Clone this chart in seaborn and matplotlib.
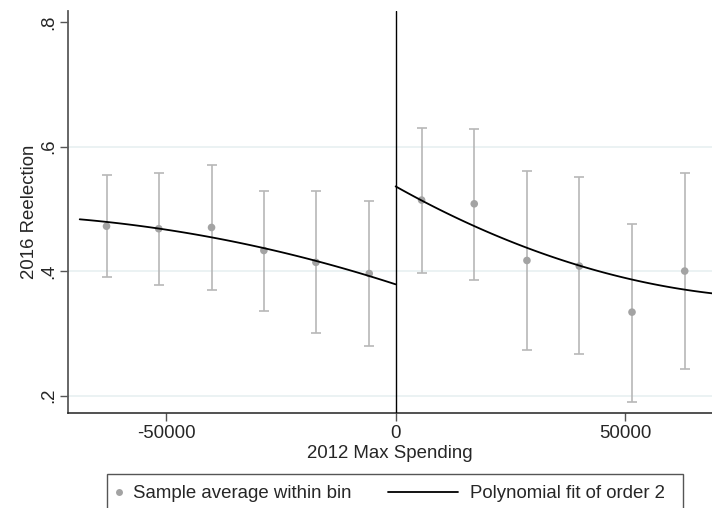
import matplotlib
matplotlib.use("Agg")
import matplotlib.pyplot as plt
import seaborn as sns
import numpy as np
import pandas as pd
from matplotlib.lines import Line2D
from matplotlib.patches import Rectangle

# Binned sample averages with 95% confidence bounds
bin_x = [-62960, -51590, -40090, -28690, -17360, -5750,
         5660, 17120, 28600, 40000, 51480, 62960]
bin_mean = [0.472, 0.468, 0.470, 0.433, 0.414, 0.396,
            0.514, 0.508, 0.417, 0.408, 0.334, 0.400]
ci_low = [0.390, 0.378, 0.370, 0.336, 0.300, 0.279,
          0.397, 0.386, 0.273, 0.266, 0.190, 0.242]
ci_high = [0.555, 0.557, 0.570, 0.529, 0.528, 0.512,
           0.630, 0.628, 0.561, 0.551, 0.476, 0.558]

# Quadratic fit traced on each side of the cutoff
fit_left_x = [-68800, -62960, -51590, -40090, -28690, -18230, -7780, 0]
fit_left_y = [0.483, 0.479, 0.468, 0.455, 0.436, 0.419, 0.395, 0.3795]
fit_right_x = [0, 5660, 17120, 28600, 40000, 51480, 62960, 68900]
fit_right_y = [0.536, 0.513, 0.473, 0.437, 0.409, 0.386, 0.370, 0.3645]

y_ticks = [0.2, 0.4, 0.6, 0.8]
y_ticklabels = [".2", ".4", ".6", ".8"]
x_ticks = [-50000, 0, 50000]
x_ticklabels = ["-50000", "0", "50000"]

sns.set_style("white")
plt.rcParams["font.family"] = ["Liberation Sans", "DejaVu Sans"]
FS = 13.4

W, H = 712, 508
fig = plt.figure(figsize=(W / 100, H / 100), dpi=100)
ax = fig.add_axes([68 / W, (H - 413) / H, (W - 68) / W, (413 - 11) / H])

ax.set_xlim(-71350, 68900)
ax.set_ylim(0.172, 0.8177)

# light horizontal grid
for yv in [0.2, 0.4, 0.6]:
    ax.axhline(yv, color="#e8f0f1", lw=1.2, zorder=0)

bins = pd.DataFrame({"x": bin_x, "mean": bin_mean, "lo": ci_low, "hi": ci_high})
yerr = np.array([bins["mean"] - bins["lo"], bins["hi"] - bins["mean"]])
ax.errorbar(bins["x"], bins["mean"], yerr=yerr, fmt="none",
            ecolor="#b7b7b7", elinewidth=1.2, capsize=3.3, capthick=1.2, zorder=2)
sns.scatterplot(data=bins, x="x", y="mean", ax=ax, color="#a3a3a3",
                s=30, edgecolor="none", zorder=3, legend=False)

left = pd.DataFrame({"x": fit_left_x, "y": fit_left_y})
right = pd.DataFrame({"x": fit_right_x, "y": fit_right_y})
for df in (left, right):
    sns.regplot(data=df, x="x", y="y", order=2, ci=None, scatter=False,
                ax=ax, line_kws={"color": "black", "lw": 1.3, "zorder": 4},
                truncate=True)

ax.axvline(0, color="black", lw=1.0, zorder=5)

ax.set_yticks(y_ticks)
ax.set_yticklabels(y_ticklabels, rotation=90, va="center", fontsize=FS)
ax.set_xticks(x_ticks)
ax.set_xticklabels(x_ticklabels, fontsize=FS)
ax.tick_params(axis="both", direction="out", length=6, width=1.0,
               color="#555555", pad=3, left=True, bottom=True)
ax.tick_params(axis="y", pad=1.5)
ax.set_xlabel("2012 Max Spending", fontsize=FS, labelpad=1.5)
ax.set_ylabel("2016 Reelection", fontsize=FS, labelpad=2)

for s in ("top", "right"):
    ax.spines[s].set_visible(False)
ax.spines["left"].set_color("#5a5a5a")
ax.spines["left"].set_linewidth(1.3)
ax.spines["bottom"].set_color("#222222")
ax.spines["bottom"].set_linewidth(1.1)

# Legend box below the plot area
def fx(px):
    return px / W

def fy(py):
    return (H - py) / H

fig.patches.append(Rectangle((fx(107), fy(520)), fx(683) - fx(107), fy(474) - fy(520),
                             transform=fig.transFigure, fill=False,
                             edgecolor="#555555", lw=1.0))
fig.lines.append(Line2D([fx(119)], [fy(492)], transform=fig.transFigure,
                        marker="o", markersize=5, color="#a3a3a3", mec="none", ls="none"))
fig.text(fx(133), fy(498), "Sample average within bin", fontsize=FS, va="baseline", ha="left")
fig.lines.append(Line2D([fx(388), fx(458)], [fy(492), fy(492)], transform=fig.transFigure,
                        color="black", lw=1.3))
fig.text(fx(470), fy(498), "Polynomial fit of order 2", fontsize=FS, va="baseline", ha="left")

fig.savefig("out.png", dpi=100)
